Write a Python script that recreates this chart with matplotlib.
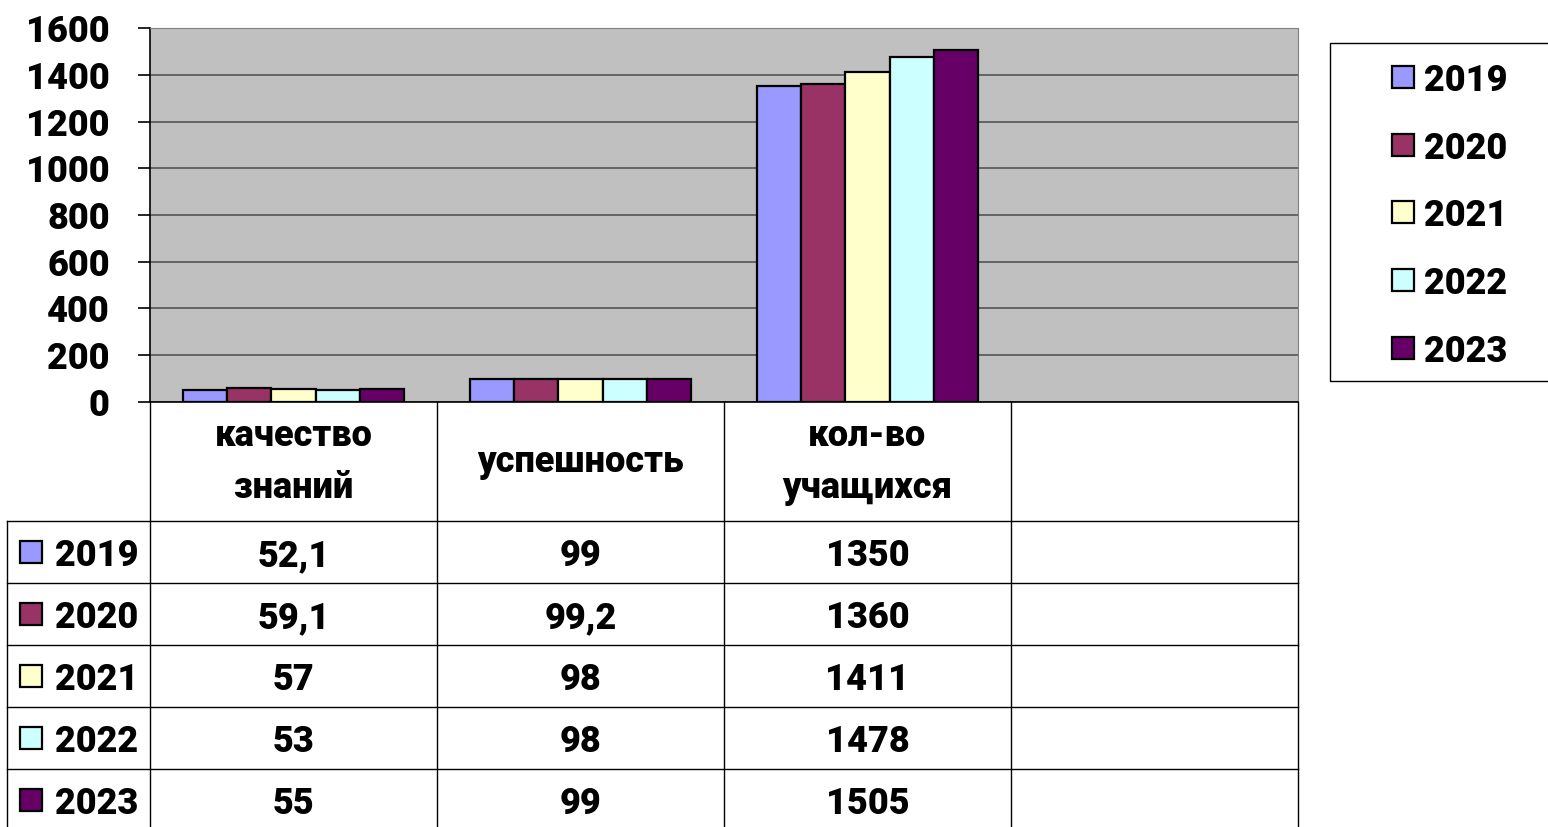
import matplotlib
matplotlib.use("Agg")
import matplotlib.pyplot as plt
from matplotlib.patches import Rectangle
from matplotlib.lines import Line2D
import numpy as np

categories = ["качество\nзнаний", "успешность", "кол-во\nучащихся", ""]
years = ["2019", "2020", "2021", "2022", "2023"]
v2019 = [52.1, 99, 1350]
v2020 = [59.1, 99.2, 1360]
v2021 = [57, 98, 1411]
v2022 = [53, 98, 1478]
v2023 = [55, 99, 1505]
table_text = [["52,1", "99", "1350"],
              ["59,1", "99,2", "1360"],
              ["57", "98", "1411"],
              ["53", "98", "1478"],
              ["55", "99", "1505"]]
series = [v2019, v2020, v2021, v2022, v2023]
colors = ["#9999FF", "#993366", "#FFFFCC", "#CCFFFF", "#660066"]
yticks = [0, 200, 400, 600, 800, 1000, 1200, 1400, 1600]

W, H = 1548, 827
plt.rcParams['font.family'] = ['Roboto', 'DejaVu Sans']
plt.rcParams['font.weight'] = 'bold'
FS = 26
WT = 'heavy'

fig = plt.figure(figsize=(W/100, H/100), dpi=100)
fig.patch.set_facecolor("white")

def fx(x): return x / W
def fy(y): return 1 - y / H

L, R, T, B = 150, 1298, 28, 402
ax = fig.add_axes([fx(L), fy(B), fx(R) - fx(L), fy(T) - fy(B)])
ax.set_facecolor("#C0C0C0")
ax.set_xlim(0, 4)
ax.set_ylim(0, 1600)
ax.set_yticks(yticks)
ax.set_yticklabels([str(t) for t in yticks], fontsize=FS, fontweight=WT)
ax.set_xticks([])
ax.yaxis.grid(True, color="#555555", linewidth=1.2)
ax.set_axisbelow(True)
ax.tick_params(axis='y', length=9, width=1.2, pad=20)
for s in ["top", "right"]:
    ax.spines[s].set_color("#808080")
for s in ["left", "bottom"]:
    ax.spines[s].set_color("black")
    ax.spines[s].set_linewidth(1.2)

bw = 0.154
x0 = np.arange(3) + 0.5
for i, (vals, c) in enumerate(zip(series, colors)):
    ax.bar(x0 + (i - 2) * bw, vals, width=bw, color=c, edgecolor="black",
           linewidth=1.6, label=years[i], zorder=3)

# legend (manual, right side, clipped by figure edge)
fig.add_artist(Rectangle((fx(1330), fy(381)), fx(1570) - fx(1330), (381 - 43) / H,
                         facecolor="white", edgecolor="black", linewidth=1.0))
leg_y = [77, 145, 212, 280, 348]
for i in range(5):
    fig.add_artist(Rectangle((fx(1392), fy(leg_y[i] + 11)), fx(22), 22 / H,
                             facecolor=colors[i], edgecolor="black", linewidth=1.6))
    fig.text(fx(1424), fy(leg_y[i]), years[i], ha="left", va="center_baseline",
             fontsize=FS, fontweight=WT)

# table
cols = [150, 437, 724, 1011, 1298]
rows = [521, 583, 645, 707, 769, 831]
def line(x1, y1, x2, y2):
    fig.add_artist(Line2D([fx(x1), fx(x2)], [fy(y1), fy(y2)], color="black", linewidth=1.0))
for x in cols:
    line(x, B, x, H)
line(7, rows[0], 7, H)
for y in rows[:-1]:
    line(7, y, R, y)

for j in range(3):
    cx = (cols[j] + cols[j + 1]) / 2
    fig.text(fx(cx), fy(462), categories[j], ha="center", va="center",
             fontsize=FS, fontweight=WT, linespacing=1.6)
row_y = [552, 614, 676, 738, 800]
for i in range(5):
    cy = row_y[i]
    for j in range(3):
        cx = (cols[j] + cols[j + 1]) / 2
        fig.text(fx(cx), fy(cy), table_text[i][j], ha="center", va="center_baseline",
                 fontsize=FS, fontweight=WT)
    fig.add_artist(Rectangle((fx(20), fy(cy + 11)), fx(22), 22 / H,
                             facecolor=colors[i], edgecolor="black", linewidth=1.6))
    fig.text(fx(55), fy(cy), years[i], ha="left", va="center_baseline",
             fontsize=FS, fontweight=WT)

fig.savefig("out.png", dpi=100)
